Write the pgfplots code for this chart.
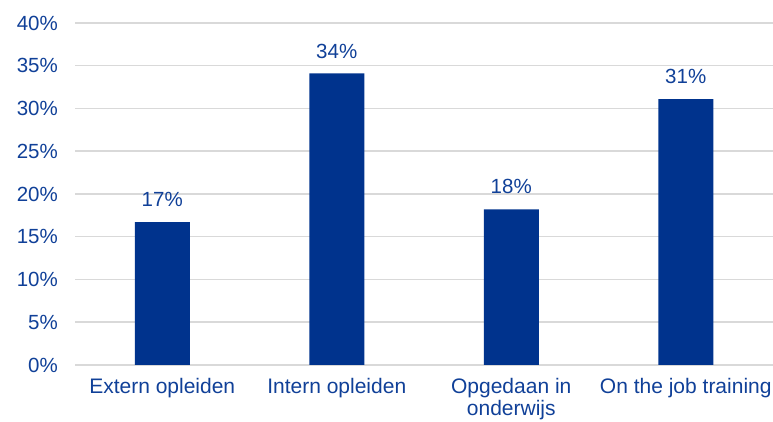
\documentclass[border=0pt]{standalone}
\usepackage{pgfplots}
\pgfplotsset{compat=1.18}
\usepackage{fontspec}
\setmainfont{Liberation Sans}
\definecolor{barblue}{RGB}{0,51,141}
\definecolor{txtblue}{RGB}{16,64,152}
\definecolor{gridgray}{RGB}{217,217,217}
\begin{document}
\fontsize{21}{24}\selectfont
\begin{tikzpicture}
\useasboundingbox (0,0) rectangle (773pt,422pt);
\begin{axis}[
  at={(75pt,57pt)}, anchor=south west,
  scale only axis, width=698pt, height=342pt,
  xmin=-0.5, xmax=3.5, ymin=0, ymax=40,
  ytick={0,5,...,40},
  yticklabel={\pgfmathprintnumber{\tick}\%},
  /pgf/number format/assume math mode=true,
  xtick={0,1,2,3},
  xticklabels={Extern opleiden, Intern opleiden, {Opgedaan in\\onderwijs}, On the job training},
  x tick label style={align=center, text=txtblue, font=\fontsize{21}{22}\selectfont, yshift=-6pt},
  y tick label style={text=txtblue, font=\fontsize{20.5}{23}\selectfont, xshift=-10pt},
  ymajorgrids, grid style={gridgray, line width=1.5pt},
  axis line style={draw=none},
  axis x line*=bottom, axis y line*=left,
  major tick length=0pt,
  clip=false,
  nodes near coords,
  point meta=explicit symbolic,
  every node near coord/.append style={text=txtblue, font=\fontsize{20.5}{23}\selectfont, yshift=8pt},
]
\draw[gridgray, line width=1.5pt] (axis cs:-0.5,0) -- (axis cs:3.5,0);
\addplot[ybar, bar width=55pt, fill=barblue, draw=none] coordinates {
  (0,16.7) [17\%]
  (1,34.1) [34\%]
  (2,18.2) [18\%]
  (3,31.1) [31\%]
};
\end{axis}
\end{tikzpicture}
\end{document}
